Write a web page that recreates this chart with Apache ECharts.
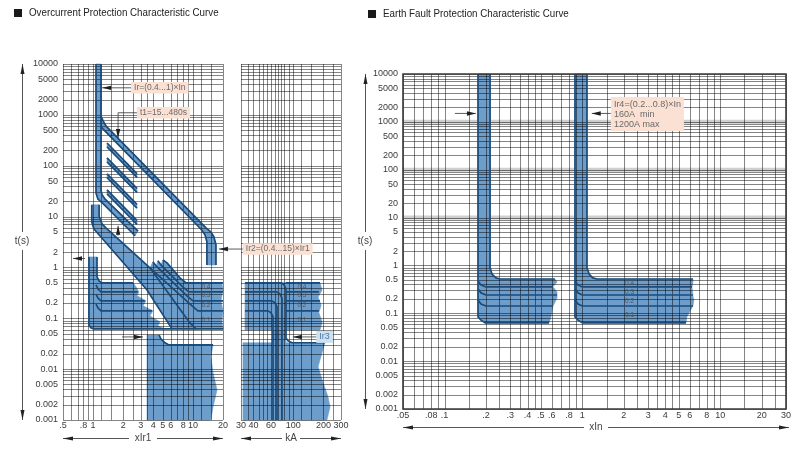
<!DOCTYPE html>
<html>
<head>
<meta charset="utf-8">
<title>Protection Characteristic Curves</title>
<script src="https://cdn.jsdelivr.net/npm/echarts@6.0.0/dist/echarts.min.js"></script>
<style>
  html, body { margin: 0; padding: 0; background: #fff; }
  #main { width: 800px; height: 451px; }
</style>
</head>
<body>
<div id="main"></div>
<script>
// ---------- axis ticks and grid values ----------
var tTicks = [10000, 5000, 2000, 1000, 500, 200, 100, 50, 20, 10, 5, 2, 1, 0.5, 0.2, 0.1, 0.05, 0.02, 0.01, 0.005, 0.002, 0.001];
var ocXTicks = [0.5, 0.8, 1, 2, 3, 4, 5, 6, 8, 10, 20];
var kaXTicks = [30, 40, 60, 100, 200, 300];
var efXTicks = [0.05, 0.08, 0.1, 0.2, 0.3, 0.4, 0.5, 0.6, 0.8, 1, 2, 3, 4, 5, 6, 8, 10, 20, 30];

var tGrid = [0.001, 0.002, 0.003, 0.004, 0.005, 0.006, 0.007, 0.008, 0.009,
  0.01, 0.02, 0.03, 0.04, 0.05, 0.06, 0.07, 0.08, 0.09,
  0.1, 0.2, 0.3, 0.4, 0.5, 0.6, 0.7, 0.8, 0.9,
  1, 2, 3, 4, 5, 6, 7, 8, 9,
  10, 20, 30, 40, 50, 60, 70, 80, 90,
  100, 200, 300, 400, 500, 600, 700, 800, 900,
  1000, 2000, 3000, 4000, 5000, 6000, 7000, 8000, 9000, 10000];
var ocXGrid = [0.5, 0.6, 0.7, 0.8, 0.9, 1, 1.2, 1.5, 2, 2.5, 3, 3.5, 4, 5, 6, 7, 8, 9, 10, 12, 15, 20];
var kaXGrid = [30, 35, 40, 45, 50, 55, 60, 65, 70, 75, 80, 90, 100, 120, 150, 200, 250, 300];
var efXGrid = [0.05, 0.06, 0.07, 0.08, 0.09, 0.1, 0.15, 0.2, 0.25, 0.3, 0.35, 0.4, 0.45, 0.5, 0.6, 0.7, 0.8, 0.9,
  1, 1.5, 2, 2.5, 3, 3.5, 4, 4.5, 5, 6, 7, 8, 9, 10, 15, 20, 25, 30];
var efDecadeBands = [1000, 100, 10];

// ---------- overcurrent curve (x = I/Ir1, t in s) ----------
var ocIrBand = [[1.07, 10000], [1.2, 10000], [1.2, 33], [1.23, 27], [1.32, 22], [2.82, 5.2], [2.63, 4.2], [1.26, 18], [1.12, 22], [1.07, 29]];
var ocIrLeft = [[1.07, 10000], [1.07, 29], [1.12, 22], [1.26, 18], [2.63, 4.2]];
var ocIrRight = [[1.2, 10000], [1.2, 33], [1.23, 27], [1.32, 22], [2.82, 5.2]];
var ocT1Band = [[1.2, 950], [1.26, 760], [1.35, 600], [13.5, 6], [15.1, 5], [16.2, 4], [17, 2.8], [17, 1.12], [13.8, 1.12], [13.8, 3.2], [13.2, 4.4], [12, 5.7], [1.2, 580]];
var ocT1Outer = [[1.2, 950], [1.26, 760], [1.35, 600], [13.5, 6], [15.1, 5], [16.2, 4], [17, 2.8], [17, 1.12]];
var ocT1Inner = [[1.2, 580], [12, 5.7], [13.2, 4.4], [13.8, 3.2], [13.8, 1.12]];
var ocT1Steps = [
  [[1.38, 280], [2.75, 70], [2.75, 59], [1.38, 235]],
  [[1.38, 142], [2.75, 36], [2.75, 30], [1.38, 119]],
  [[1.38, 69], [2.75, 17.4], [2.75, 14.6], [1.38, 58]],
  [[1.38, 33.5], [2.75, 8.4], [2.75, 7], [1.38, 28]]
];
var ocStBlock = [[0.91, 1.61], [1.095, 1.61], [1.095, 0.65], [1.15, 0.54], [1.23, 0.5], [2.51, 0.5], [2.69, 0.415], [2.88, 0.33], [2.75, 0.277],
  [3.39, 0.22], [3.16, 0.176], [3.98, 0.14], [3.71, 0.112], [4.67, 0.085], [4.46, 0.071], [5.25, 0.062], [1.0, 0.062], [0.95, 0.065], [0.91, 0.074]];
var ocStBand = [[0.97, 17], [1.15, 17], [1.15, 10], [1.23, 7.2], [1.38, 5.7], [3.71, 0.98], [9.3, 0.082], [10.7, 0.062], [6.17, 0.062], [3.47, 0.36], [1.17, 4.2], [1.02, 5.7], [0.97, 7.9]];
var ocStSteps = [[3.71, 0.98], [3.98, 1.29], [4.27, 1.07], [4.46, 1.35], [4.78, 1.12], [5.0, 1.41], [5.5, 1.23], [7.4, 0.625], [8.5, 0.5], [19.5, 0.5],
  [20, 0.363], [19.1, 0.221], [20, 0.14], [19.5, 0.085], [20, 0.062], [10.7, 0.062], [9.3, 0.082]];
var ocStLines = [
  [[0.91, 1.61], [0.91, 0.074], [0.95, 0.065], [1.0, 0.062], [20, 0.062]],
  [[1.095, 1.61], [1.095, 0.65], [1.15, 0.54], [1.23, 0.5], [2.51, 0.5]],
  [[1.07, 0.455], [1.12, 0.38], [1.2, 0.33], [2.8, 0.33]],
  [[1.07, 0.3], [1.12, 0.25], [1.2, 0.22], [3.3, 0.22]],
  [[1.07, 0.19], [1.12, 0.16], [1.2, 0.14], [3.9, 0.14]],
  [[0.97, 17], [0.97, 7.9], [1.02, 5.7], [1.17, 4.2], [3.47, 0.36], [6.17, 0.062]],
  [[1.15, 17], [1.15, 10], [1.23, 7.2], [1.38, 5.7], [3.71, 0.98], [9.3, 0.082], [10.7, 0.062]],
  [[5.0, 1.41], [5.5, 1.23], [7.4, 0.625], [8.5, 0.5], [20, 0.5]],
  [[4.46, 1.35], [4.78, 1.12], [7.9, 0.415], [9.1, 0.33], [20, 0.33]],
  [[3.98, 1.29], [4.27, 1.07], [8.7, 0.277], [10, 0.22], [20, 0.22]],
  [[3.71, 0.98], [9.8, 0.176], [11.2, 0.14], [20, 0.14]]
];
var ocInstBlock = [[3.47, 0.047], [4.57, 0.047], [4.78, 0.0395], [5.25, 0.033], [5.75, 0.03], [15.9, 0.03], [15.1, 0.0175], [15.9, 0.0085], [17.4, 0.0039], [15.9, 0.0018], [15.1, 0.001], [3.47, 0.001]];
var ocInstLine = [[4.57, 0.047], [4.78, 0.0395], [5.25, 0.033], [5.75, 0.03], [15.9, 0.03]];

// ---------- short-circuit current scale (kA) ----------
var kaTopBlock = [[32.9, 0.5], [185, 0.5], [194, 0.36], [177, 0.26], [190, 0.18], [180, 0.13], [194, 0.085], [185, 0.059], [32.9, 0.059]];
var kaColumn = [[61.2, 0.5], [84.5, 0.5], [84.5, 0.001], [61.2, 0.001]];
var kaInstBlock = [[31.4, 0.033], [207, 0.033], [185, 0.0153], [177, 0.0111], [194, 0.0062], [222, 0.0029], [233, 0.0018], [217, 0.001], [31.4, 0.001]];
var kaLines = [
  [[32.9, 0.5], [75.4, 0.5], [80.8, 0.455], [84.5, 0.38], [84.5, 0.041], [88.5, 0.036], [97.1, 0.033], [207, 0.033]],
  [[32.9, 0.33], [68.7, 0.33], [73.6, 0.3], [77.1, 0.25], [77.1, 0.001]],
  [[32.9, 0.22], [61.2, 0.22], [65.6, 0.2], [68.7, 0.17], [68.7, 0.001]],
  [[32.9, 0.14], [55.9, 0.14], [59.9, 0.128], [62.7, 0.107], [62.7, 0.001]],
  [[84.5, 0.5], [185, 0.5]],
  [[84.5, 0.33], [180, 0.33]],
  [[84.5, 0.22], [185, 0.22]],
  [[84.5, 0.14], [180, 0.14]]
];

// ---------- earth fault curve (x = I/In) ----------
var efMinBand = [[0.175, 10000], [0.214, 10000], [0.214, 0.89], [0.221, 0.66], [0.236, 0.55], [0.253, 0.52], [0.632, 0.52], [0.655, 0.45], [0.612, 0.36],
  [0.655, 0.28], [0.655, 0.21], [0.612, 0.14], [0.592, 0.084], [0.573, 0.063], [0.197, 0.063], [0.184, 0.072], [0.175, 0.084]];
var efMinLines = [
  [[0.175, 10000], [0.175, 0.084], [0.184, 0.072], [0.197, 0.063], [0.573, 0.063]],
  [[0.214, 10000], [0.214, 0.89], [0.221, 0.66], [0.236, 0.55], [0.253, 0.52], [0.632, 0.52]],
  [[0.175, 0.473], [0.184, 0.39], [0.2, 0.355], [0.612, 0.355]],
  [[0.175, 0.322], [0.184, 0.267], [0.2, 0.241], [0.655, 0.241]],
  [[0.175, 0.19], [0.184, 0.156], [0.2, 0.142], [0.612, 0.142]]
];
var efMaxBand = [[0.884, 10000], [1.08, 10000], [1.08, 0.89], [1.12, 0.66], [1.19, 0.55], [1.28, 0.52], [6.34, 0.52], [6.34, 0.45], [6.24, 0.355],
  [6.34, 0.23], [6.44, 0.19], [6.34, 0.142], [5.73, 0.084], [5.64, 0.063], [1.0, 0.063], [0.93, 0.072], [0.884, 0.084]];
var efMaxLines = [
  [[0.884, 10000], [0.884, 0.084], [0.93, 0.072], [1.0, 0.063], [5.64, 0.063]],
  [[1.08, 10000], [1.08, 0.89], [1.12, 0.66], [1.19, 0.55], [1.28, 0.52], [6.34, 0.52]],
  [[0.884, 0.473], [0.93, 0.39], [1.0, 0.355], [6.24, 0.355]],
  [[0.884, 0.322], [0.93, 0.267], [1.0, 0.241], [6.34, 0.241]],
  [[0.884, 0.19], [0.93, 0.156], [1.0, 0.142], [6.34, 0.142]]
];

// ---------- annotations ----------
var stepNames = ['0.4', '0.3', '0.2', '0.1'];
var ocStepAt = [[13.5, 0.4], [13.5, 0.28], [13.5, 0.18], [13.5, 0.09]];
var kaStepAt = [[122, 0.4], [122, 0.28], [122, 0.18], [122, 0.09]];
var efStepAt = [[2.2, 0.43], [2.2, 0.28], [2.2, 0.18], [2.2, 0.092]];

var ocNotes = [
  {text: 'Ir=(0.4...1)×In', at: [2.4, 3400]},
  {text: 't1=15...480s', at: [2.75, 1100]},
  {text: 'Ir2=(0.4...15)×Ir1', at: [31.6, 2.3]}
];
var ocArrows = [
  [[2.4, 3400], [1.23, 3400]],
  [[2.75, 1100], [1.78, 1100], [1.78, 350]],
  [[1.78, 4.2], [1.78, 6.6]],
  [[0.83, 1.5], [0.63, 1.5]],
  [[31.6, 2.3], [18.2, 2.3]],
  [[1.95, 0.043], [3.16, 0.043]]
];
var kaNotes = [{text: 'Ir3', at: [170, 0.043]}];
var kaArrows = [[[170, 0.043], [99, 0.043]]];
var efNotes = [{text: 'Ir4=(0.2...0.8)×In\n160A  min\n1200A max', at: [1.61, 3300]}];
var efArrows = [
  [[1.61, 1500], [1.17, 1500]],
  [[0.119, 1500], [0.169, 1500]]
];

// ---------- styles / layout ----------
var BLUE = '#6d9dca', NAVY = '#1b4b7a', GRIDC = 'rgba(0,0,0,0.48)', TXT = '#3a3a3a';
var FONT = '"Liberation Sans", Arial, sans-serif';
var layout = [
  {left: 63, top: 64, width: 160, height: 356},
  {left: 241, top: 64, width: 100, height: 356},
  {left: 403, top: 74, width: 383, height: 335}
];
var xRange = [[0.5, 20], [30, 300], [0.05, 30]];
var tRange = [0.001, 10000];

function fmtX(v) { return v < 1 ? String(v).replace(/^0/, '') : String(v); }

function fillEl(c, poly) {
  return {type: 'polygon', shape: {points: poly.map(c)}, style: {fill: BLUE, stroke: BLUE, lineWidth: 0.6}};
}
function edgeEl(c, line) {
  return {type: 'polyline', shape: {points: line.map(c)},
    style: {fill: null, stroke: NAVY, lineWidth: 1.7, lineJoin: 'round'}};
}
function gridEls(c, gi, xs, ts) {
  var out = [], xr = xRange[gi];
  xs.forEach(function (v) {
    var a = c([v, tRange[0]]), b = c([v, tRange[1]]);
    var x = Math.round(a[0]) + 0.5;
    out.push({type: 'line', shape: {x1: x, y1: a[1], x2: x, y2: b[1]}, style: {stroke: GRIDC, lineWidth: 1}});
  });
  ts.forEach(function (v) {
    var a = c([xr[0], v]), b = c([xr[1], v]);
    var y = Math.round(a[1]) + 0.5;
    out.push({type: 'line', shape: {x1: a[0], y1: y, x2: b[0], y2: y}, style: {stroke: GRIDC, lineWidth: 1}});
  });
  return out;
}
function arrowEls(c, line) {
  var p = line.map(c), n = p.length, tip = p[n - 1], prev = p[n - 2];
  var dx = tip[0] - prev[0], dy = tip[1] - prev[1], len = Math.sqrt(dx * dx + dy * dy);
  var ux = dx / len, uy = dy / len, L = 9, W = 2.2;
  var bx = tip[0] - ux * L, by = tip[1] - uy * L;
  return [
    {type: 'polyline', shape: {points: p}, style: {fill: null, stroke: '#333', lineWidth: 0.8}},
    {type: 'polygon', shape: {points: [tip, [bx - uy * W, by + ux * W], [bx + uy * W, by - ux * W]]}, style: {fill: '#1e1e1e'}}
  ];
}
function noteEl(c, note, bg, color, size) {
  var p = c(note.at);
  var multi = note.text.indexOf('\n') >= 0;
  return {type: 'text', x: p[0], y: p[1], style: {
    text: note.text, fill: color, font: size + 'px ' + FONT,
    align: 'left', verticalAlign: multi ? 'top' : 'middle',
    backgroundColor: bg, padding: multi ? [2, 3] : [1, 3], lineHeight: multi ? 10 : size + 1
  }};
}
function stepEls(c, list) {
  return list.map(function (at, i) {
    var p = c(at);
    return {type: 'text', x: p[0], y: p[1], style: {text: stepNames[i], fill: '#555', font: '6.5px ' + FONT, align: 'center', verticalAlign: 'middle'}};
  });
}
function tickEls(c, gi, xTicks, showT, dy) {
  var out = [];
  xTicks.forEach(function (v) {
    var p = c([v, tRange[0]]);
    out.push({type: 'text', x: p[0], y: p[1] + dy, style: {text: fmtX(v), fill: TXT, font: '9px ' + FONT, align: 'center', verticalAlign: 'middle'}});
  });
  if (showT) {
    tTicks.forEach(function (v) {
      var p = c([xRange[gi][0], v]);
      out.push({type: 'text', x: p[0] - 5, y: p[1], style: {text: String(v), fill: TXT, font: '9px ' + FONT, align: 'right', verticalAlign: 'middle'}});
    });
  }
  return out;
}

function layer(gi, z, build) {
  return {
    type: 'custom', coordinateSystem: 'cartesian2d',
    xAxisIndex: gi, yAxisIndex: gi, z: z, silent: true, clip: false,
    encode: {x: 0, y: 1},
    data: [[xRange[gi][0], tRange[1]]],
    renderItem: function (params, api) {
      var c = function (p) { return api.coord(p); };
      return {type: 'group', children: build(c)};
    }
  };
}

var series = [
  layer(0, 2, function (c) {
    var els = [];
    [ocIrBand, ocT1Band].concat(ocT1Steps, [ocStBlock, ocStBand, ocStSteps, ocInstBlock]).forEach(function (p) { els.push(fillEl(c, p)); });
    els = els.concat(gridEls(c, 0, ocXGrid, tGrid));
    [ocIrLeft, ocIrRight, ocT1Outer, ocT1Inner, ocInstLine].concat(ocStLines).forEach(function (l) { els.push(edgeEl(c, l)); });
    ocT1Steps.forEach(function (h) {
      els.push(edgeEl(c, [h[0], h[1]]));
      els.push(edgeEl(c, [h[3], h[2]]));
    });
    return els;
  }),
  layer(1, 2, function (c) {
    var els = [kaTopBlock, kaColumn, kaInstBlock].map(function (p) { return fillEl(c, p); });
    els = els.concat(gridEls(c, 1, kaXGrid, tGrid));
    kaLines.forEach(function (l) { els.push(edgeEl(c, l)); });
    return els;
  }),
  layer(2, 2, function (c) {
    var els = [];
    efDecadeBands.forEach(function (v) {
      var a = c([xRange[2][0], v]), b = c([xRange[2][1], v]);
      els.push({type: 'line', shape: {x1: a[0], y1: a[1], x2: b[0], y2: b[1]}, style: {stroke: '#cfcfcf', lineWidth: 4}});
    });
    els.push(fillEl(c, efMinBand), fillEl(c, efMaxBand));
    els = els.concat(gridEls(c, 2, efXGrid, tGrid));
    efMinLines.concat(efMaxLines).forEach(function (l) { els.push(edgeEl(c, l)); });
    var a = c([xRange[2][0], tRange[1]]), b = c([xRange[2][1], tRange[0]]);
    els.push({type: 'rect', shape: {x: a[0], y: a[1], width: b[0] - a[0], height: b[1] - a[1]}, style: {fill: null, stroke: '#3a3a3a', lineWidth: 1.6}});
    return els;
  }),
  layer(0, 5, function (c) {
    var els = tickEls(c, 0, ocXTicks, true, 6).concat(stepEls(c, ocStepAt));
    ocArrows.forEach(function (a) { els = els.concat(arrowEls(c, a)); });
    ocNotes.forEach(function (n) { els.push(noteEl(c, n, '#fbe1d3', '#6a6a6a', 8.5)); });
    return els;
  }),
  layer(1, 5, function (c) {
    var els = tickEls(c, 1, kaXTicks, false, 6).concat(stepEls(c, kaStepAt));
    kaArrows.forEach(function (a) { els = els.concat(arrowEls(c, a)); });
    kaNotes.forEach(function (n) { els.push(noteEl(c, n, '#cde2f1', '#4f79a6', 9)); });
    return els;
  }),
  layer(2, 5, function (c) {
    var els = tickEls(c, 2, efXTicks, true, 7).concat(stepEls(c, efStepAt));
    efArrows.forEach(function (a) { els = els.concat(arrowEls(c, a)); });
    efNotes.forEach(function (n) { els.push(noteEl(c, n, '#fbe1d3', '#6a6a6a', 9)); });
    return els;
  })
];

// ---------- axis names, arrows and titles ----------
function head(x, y, dir) {
  var L = 10, w = 2;
  var p = {up: [[x, y], [x - w, y + L], [x + w, y + L]], down: [[x, y], [x - w, y - L], [x + w, y - L]],
    left: [[x, y], [x + L, y - w], [x + L, y + w]], right: [[x, y], [x - L, y - w], [x - L, y + w]]}[dir];
  return {type: 'polygon', shape: {points: p}, style: {fill: '#222'}};
}
function seg(x1, y1, x2, y2) {
  return {type: 'line', shape: {x1: x1, y1: y1, x2: x2, y2: y2}, style: {stroke: '#444', lineWidth: 0.9}};
}
function label(x, y, text) {
  return {type: 'text', x: x, y: y, style: {text: text, fill: '#444', font: '10px ' + FONT, align: 'center', verticalAlign: 'middle'}};
}
function vAxisName(x, g) {
  var top = g.top, bot = g.top + g.height, mid = 241;
  return [seg(x + 0.5, top, x + 0.5, mid - 9), seg(x + 0.5, mid + 9, x + 0.5, bot), head(x + 0.5, top, 'up'), head(x + 0.5, bot, 'down'), label(x, mid, 't(s)')];
}
function hAxisName(y, g, text, half) {
  var l = g.left, r = g.left + g.width, mid = l + g.width * 0.5;
  return [seg(l, y + 0.5, mid - half, y + 0.5), seg(mid + half, y + 0.5, r, y + 0.5), head(l, y + 0.5, 'left'), head(r, y + 0.5, 'right'), label(mid, y, text)];
}
var graphics = [].concat(
  vAxisName(22, layout[0]),
  hAxisName(438, layout[0], 'xIr1', 14),
  hAxisName(438, layout[1], 'kA', 9),
  vAxisName(365, layout[2]),
  hAxisName(427, {left: 403, width: 386}, 'xIn', 12),
  [
    {type: 'rect', shape: {x: 14, y: 9, width: 8, height: 8}, style: {fill: '#1a1a1a'}},
    {type: 'text', x: 29, y: 13, scaleX: 0.85, style: {text: 'Overcurrent Protection Characteristic Curve', fill: '#222', font: '11.5px ' + FONT, verticalAlign: 'middle'}},
    {type: 'rect', shape: {x: 368, y: 10, width: 8, height: 8}, style: {fill: '#1a1a1a'}},
    {type: 'text', x: 383, y: 14, scaleX: 0.85, style: {text: 'Earth Fault Protection Characteristic Curve', fill: '#222', font: '11.5px ' + FONT, verticalAlign: 'middle'}}
  ]
);

var chart = echarts.init(document.getElementById('main'), null, {renderer: 'canvas'});
chart.setOption({
  animation: false,
  backgroundColor: '#fff',
  grid: layout.map(function (g) { return {left: g.left, top: g.top, width: g.width, height: g.height}; }),
  xAxis: xRange.map(function (r, i) { return {type: 'log', logBase: 10, gridIndex: i, min: r[0], max: r[1], show: false}; }),
  yAxis: layout.map(function (g, i) { return {type: 'log', logBase: 10, gridIndex: i, min: tRange[0], max: tRange[1], show: false}; }),
  graphic: {elements: graphics},
  series: series
});
</script>
</body>
</html>
